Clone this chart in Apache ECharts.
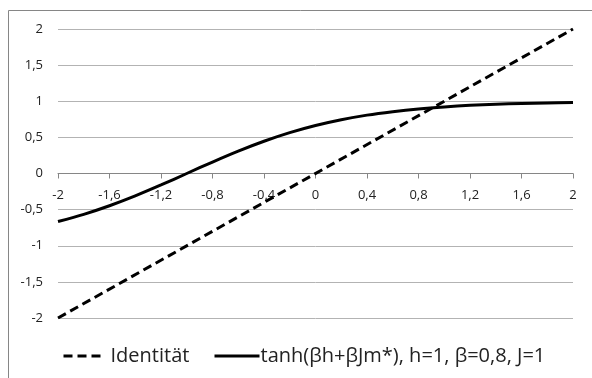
<!DOCTYPE html>
<html>
<head>
<meta charset="utf-8">
<script src="https://cdn.jsdelivr.net/npm/echarts@6/dist/echarts.min.js"></script>
<style>
  html, body { margin: 0; padding: 0; background: #fff; }
  #chart { width: 592px; height: 378px; }
</style>
</head>
<body>
<div id="chart"></div>
<script>
// Werte
var xIdent = [-2, 2]
var yIdent = [-2, 2]
var xTanh = [-2, -1.8, -1.6, -1.4, -1.2, -1, -0.8, -0.6, -0.4, -0.2, 0, 0.2, 0.4, 0.6, 0.8, 1, 1.2, 1.4, 1.6, 1.8, 2]
var yTanh = [-0.664, -0.565, -0.446, -0.31, -0.159, 0, 0.159, 0.31, 0.446, 0.565, 0.664, 0.744, 0.808, 0.856, 0.894, 0.922, 0.943, 0.958, 0.969, 0.977, 0.984]
var nameIdent = 'Identität'
var nameTanh = 'tanh(βh+βJm*), h=1, β=0,8, J=1'

var fontFam = '"Open Sans", sans-serif'

function komma(v) {
  return String(Math.round(v * 10) / 10).replace('.', ',')
}

var chart = echarts.init(document.getElementById('chart'))

// x-Achse liegt mittig bei y=0 (onZero greift hier nicht, daher offset)
var gridTop = 29
var gridBottom = 60
var gridHoehe = 378 - gridTop - gridBottom

var option = {
  animation: false,
  textStyle: { fontFamily: fontFam },
  graphic: [
    {
      type: 'rect',
      shape: { x: 8.5, y: 10.5, width: 700, height: 500 },
      style: { fill: 'none', stroke: '#868686', lineWidth: 1 },
      silent: true
    }
  ],
  grid: {
    left: 58,
    right: 19,
    top: gridTop,
    bottom: gridBottom
  },
  legend: [
    {
      data: [nameIdent],
      left: 62,
      top: 346,
      padding: 0,
      itemWidth: 38,
      itemHeight: 14,
      itemStyle: { opacity: 0 },
      lineStyle: { width: 3, type: [9, 5] },
      textStyle: { fontSize: 20, color: '#222', fontFamily: fontFam, padding: [0, 0, 0, 4] }
    },
    {
      data: [nameTanh],
      left: 213,
      top: 346,
      padding: 0,
      itemWidth: 45,
      itemHeight: 14,
      itemStyle: { opacity: 0 },
      lineStyle: { width: 3 },
      textStyle: { fontSize: 20, color: '#222', fontFamily: fontFam, padding: [0, 0, 0, -4] }
    }
  ],
  xAxis: {
    type: 'value',
    min: -2,
    max: 2,
    interval: 0.4,
    offset: -gridHoehe / 2,
    axisLine: { onZero: false, lineStyle: { color: '#868686', width: 1 } },
    axisTick: { show: true, length: 5, lineStyle: { color: '#868686' } },
    splitLine: { show: false },
    axisLabel: {
      fontSize: 13,
      color: '#222',
      margin: 15,
      showMinLabel: true,
      showMaxLabel: true,
      formatter: komma
    }
  },
  yAxis: {
    type: 'value',
    min: -2,
    max: 2,
    interval: 0.5,
    axisLine: { show: false },
    axisTick: { show: false },
    splitLine: { lineStyle: { color: '#b3b3b3', width: 1 } },
    axisLabel: {
      fontSize: 13,
      color: '#222',
      margin: 15,
      formatter: komma
    }
  },
  series: [
    {
      name: nameIdent,
      type: 'line',
      data: xIdent.map(function (x, i) { return [x, yIdent[i]] }),
      symbol: 'none',
      lineStyle: { color: '#000', width: 3, type: [9, 5] },
      itemStyle: { color: '#000' }
    },
    {
      name: nameTanh,
      type: 'line',
      data: xTanh.map(function (x, i) { return [x, yTanh[i]] }),
      symbol: 'none',
      smooth: 0.3,
      lineStyle: { color: '#000', width: 3 },
      itemStyle: { color: '#000' }
    }
  ]
}

chart.setOption(option)
</script>
</body>
</html>
